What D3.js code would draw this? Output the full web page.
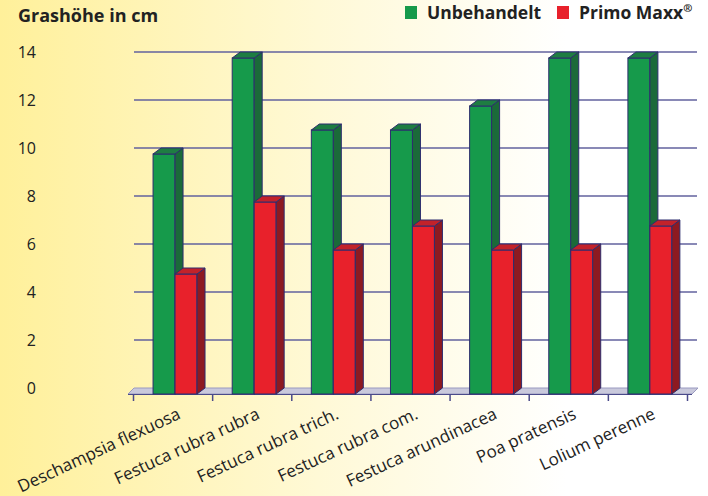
<!DOCTYPE html>
<html>
<head>
<meta charset="utf-8">
<script src="https://cdn.jsdelivr.net/npm/d3@7"></script>
<style>
  body { margin: 0; }
  text { font-family: "Open Sans", "DejaVu Sans", sans-serif; fill: #222; }
</style>
</head>
<body>
<div id="chart"></div>
<script>
var categories = ["Deschampsia flexuosa", "Festuca rubra rubra", "Festuca rubra trich.",
  "Festuca rubra com.", "Festuca arundinacea", "Poa pratensis", "Lolium perenne"];
var unbehandelt = [10, 14, 11, 11, 12, 14, 14];
var primo = [5, 8, 6, 7, 6, 6, 7];
var yTicks = [0, 2, 4, 6, 8, 10, 12, 14];
var seriesNames = ["Unbehandelt", "Primo Maxx"];

chart();

function chart() {
  var width = 708, height = 496;
  var dx = 8, dy = 6; // depth of the 3d bars

  var front = {g: "#169a4b", r: "#e8212b"},
      side  = {g: "#1b6a39", r: "#8d1a21"},
      top   = {g: "#1e7d42", r: "#c2222a"},
      edge  = "#2d2d6e";

  var svg = d3.select("#chart").append("svg")
    .attr("width", width)
    .attr("height", height);

  var grad = svg.append("defs").append("linearGradient")
    .attr("id", "bg")
    .attr("x1", "0%").attr("x2", "100%").attr("y1", "0%").attr("y2", "0%");
  grad.append("stop").attr("offset", "0%").attr("stop-color", "#fff09a");
  grad.append("stop").attr("offset", "45%").attr("stop-color", "#fff9d6");
  grad.append("stop").attr("offset", "80%").attr("stop-color", "#ffffff");

  svg.append("rect")
    .attr("width", width)
    .attr("height", height)
    .style("fill", "url(#bg)");

  var y = d3.scaleLinear().domain([0, 14]).range([388, 52]);
  var x = d3.scaleBand().domain(categories).range([133, 687]).paddingInner(0).paddingOuter(0);
  var x1 = d3.scaleBand().domain(["g", "r"]).range([0, x.bandwidth()])
    .paddingInner(0).paddingOuter(0.8).align(0.57);

  // gridlines on the back wall
  svg.append("g").selectAll("line")
    .data(yTicks.filter(function(d) { return d > 0; }))
    .enter().append("line")
    .attr("x1", 134)
    .attr("x2", 697)
    .attr("y1", function(d) { return y(d); })
    .attr("y2", function(d) { return y(d); })
    .style("stroke", "#62629e")
    .style("stroke-width", 1.5);

  // y labels
  svg.append("g").selectAll("text")
    .data(yTicks).enter()
    .append("text")
    .attr("x", 36)
    .attr("y", function(d) { return y(d); })
    .attr("dy", "0.35em")
    .style("text-anchor", "end")
    .style("font-size", "16px")
    .text(function(d) { return d; });

  // floor
  var x0 = 134, xe = 698, yf = y(0);
  svg.append("path")
    .attr("d", "M" + x0 + "," + yf + "L" + xe + "," + yf + "L" + (xe - 6) + "," + (yf + dy) +
      "L" + (x0 - 6) + "," + (yf + dy) + "Z")
    .style("fill", "#c9c9dc")
    .style("stroke", "#9a9ac0")
    .style("stroke-width", 1);

  // x axis with ticks at category boundaries
  var xb = d3.scaleLinear().domain([0, categories.length]).range([133, 687]);
  svg.append("g")
    .attr("transform", "translate(0," + (yf + dy) + ")")
    .call(d3.axisBottom(xb).tickValues(d3.range(categories.length + 1)).tickFormat("").tickSize(7).tickSizeOuter(0))
    .call(function(g) {
      g.select(".domain").attr("d", "M128,0.5H692").style("stroke", "#4a4a8a").style("stroke-width", 1.2);
      g.selectAll(".tick line").style("stroke", "#4a4a8a").style("stroke-width", 1.5);
    });

  // bars
  var data = [];
  categories.forEach(function(c, i) {
    data.push({cat: c, key: "g", value: unbehandelt[i]});
    data.push({cat: c, key: "r", value: primo[i]});
  });

  var bars = svg.append("g").selectAll("g")
    .data(data).enter()
    .append("g")
    .attr("transform", function(d) { return "translate(" + (x(d.cat) + x1(d.key)) + ",0)"; });

  var w = x1.bandwidth();

  bars.append("rect")
    .attr("x", 0)
    .attr("y", function(d) { return y(d.value) + dy; })
    .attr("width", w)
    .attr("height", function(d) { return y(0) - y(d.value); })
    .style("fill", function(d) { return front[d.key]; })
    .style("stroke", edge)
    .style("stroke-width", 1);

  bars.append("path")
    .attr("d", function(d) {
      var t = y(d.value) + dy, b = y(0) + dy;
      return "M" + w + "," + t + "L" + (w + dx) + "," + (t - dy) + "L" + (w + dx) + "," + (b - dy) +
        "L" + w + "," + b + "Z";
    })
    .style("fill", function(d) { return side[d.key]; })
    .style("stroke", edge)
    .style("stroke-width", 1);

  bars.append("path")
    .attr("d", function(d) {
      var t = y(d.value) + dy;
      return "M0," + t + "L" + dx + "," + (t - dy) + "L" + (w + dx) + "," + (t - dy) + "L" + w + "," + t + "Z";
    })
    .style("fill", function(d) { return top[d.key]; })
    .style("stroke", edge)
    .style("stroke-width", 1);

  // category labels
  svg.append("g").selectAll("text")
    .data(categories).enter()
    .append("text")
    .attr("transform", function(d) {
      return "translate(" + (x(d) + x.bandwidth() / 2 + 9) + "," + 418 + ") rotate(-25)";
    })
    .style("text-anchor", "end")
    .style("font-size", "17px")
    .text(function(d) { return d; });

  // title
  svg.append("text")
    .attr("x", 18)
    .attr("y", 22)
    .style("font-size", "18px")
    .style("font-weight", 700)
    .text("Grashöhe in cm");

  // legend
  var legend = svg.append("g").attr("id", "legend");
  legend.append("rect")
    .attr("x", 405).attr("y", 6).attr("width", 12).attr("height", 13)
    .style("fill", front.g);
  legend.append("text")
    .attr("x", 427).attr("y", 19)
    .style("font-size", "17.5px").style("font-weight", 700)
    .text(seriesNames[0]);
  legend.append("rect")
    .attr("x", 557).attr("y", 6).attr("width", 12).attr("height", 13)
    .style("fill", front.r);
  var t2 = legend.append("text")
    .attr("x", 579).attr("y", 19)
    .style("font-size", "17.5px").style("font-weight", 700);
  t2.append("tspan").text(seriesNames[1]);
  t2.append("tspan").attr("dy", -7).style("font-size", "11px").text("®");
}
</script>
</body>
</html>
